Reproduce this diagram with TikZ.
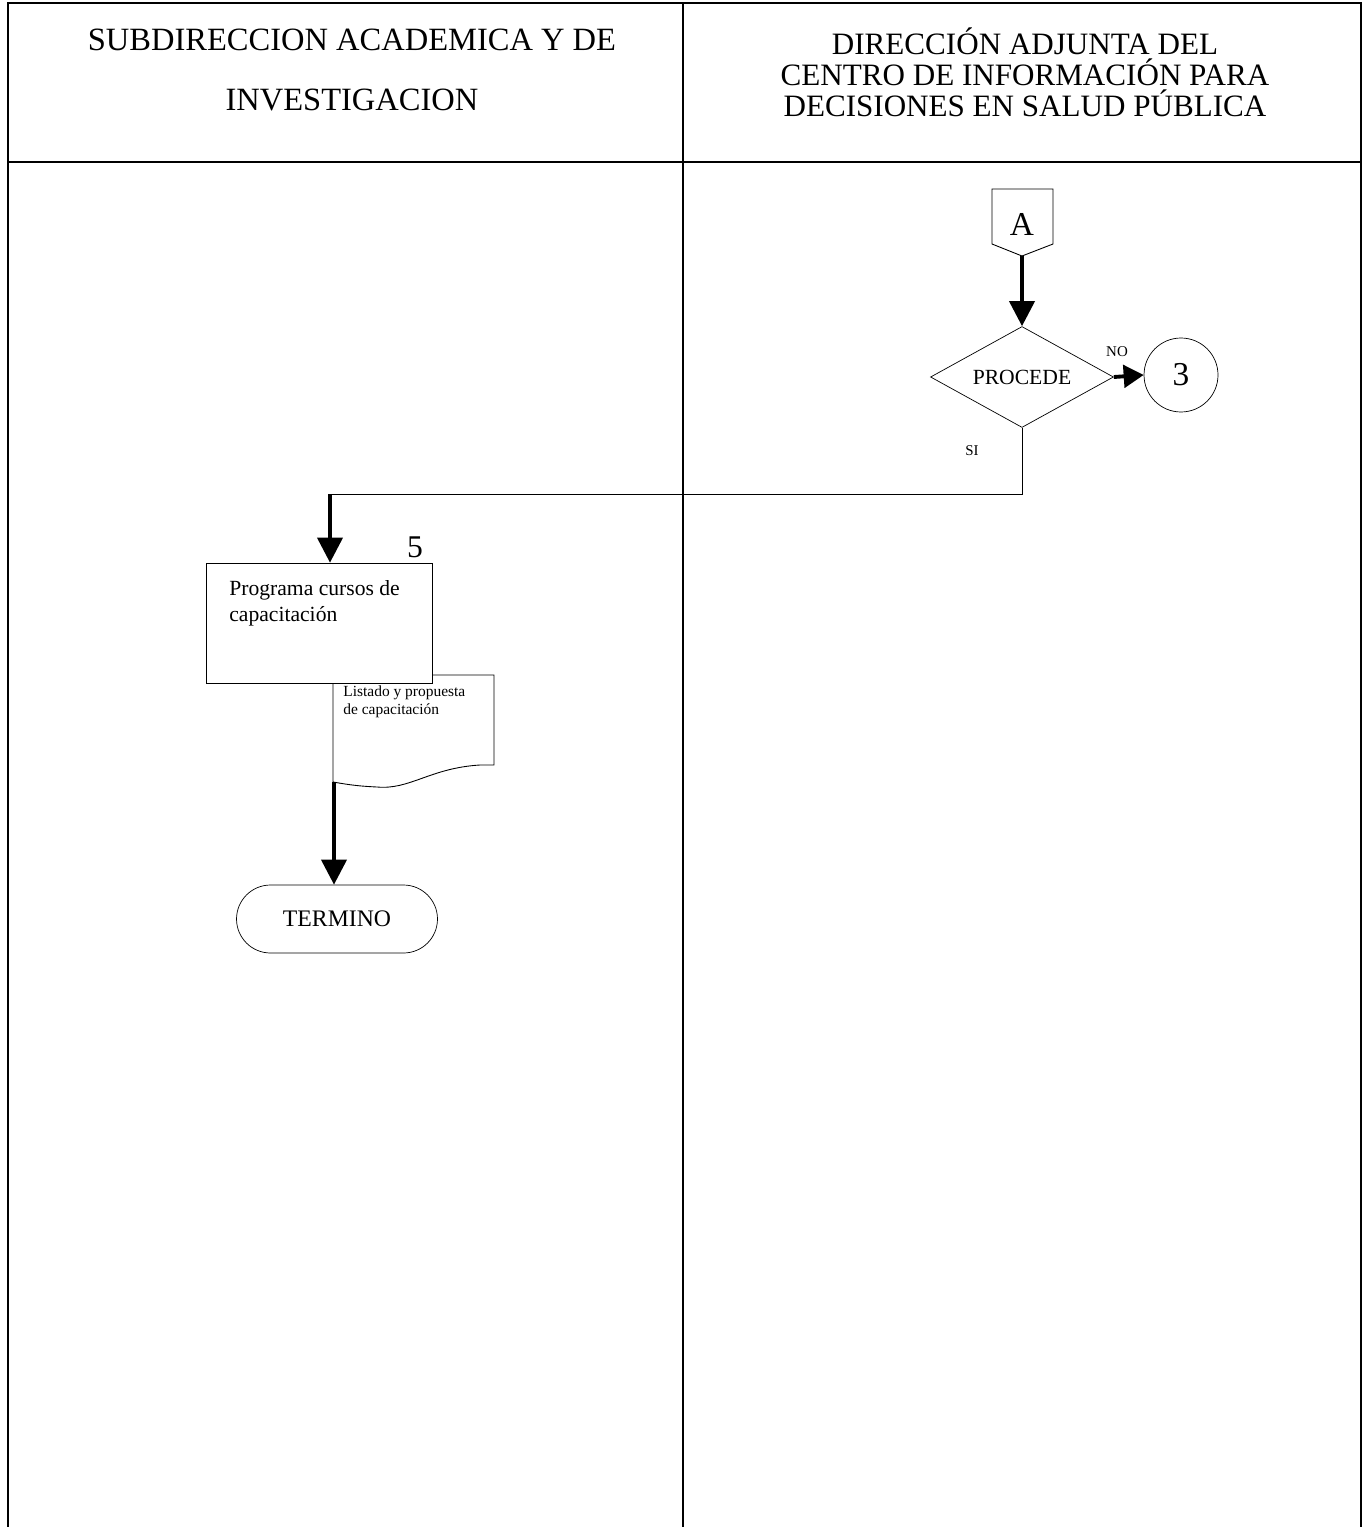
\documentclass[tikz,border=0pt]{standalone}
\usepackage{fontspec}
\setmainfont{Liberation Serif}
\usetikzlibrary{arrows.meta,positioning,shapes.geometric}
\tikzset{lane/.style={line width=1pt},
  flow/.style={-{Triangle[length=5mm,width=5mm]},line width=2.2pt},
  link/.style={line width=.5pt},
  hdr/.style={font=\fontsize{17.7}{17.6}\selectfont,align=center},
  decision/.style={diamond,draw,aspect=1.8,inner sep=0pt,minimum width=3.66cm,minimum height=2.02cm,font=\fontsize{12.3}{14}\selectfont},
  conn/.style={circle,draw,minimum size=1.48cm,inner sep=0pt,font=\fontsize{19}{22}\selectfont},
  procbox/.style={draw,fill=white,minimum width=4.52cm,minimum height=2.4cm},
  termbox/.style={draw,rounded corners=.68cm,minimum width=4.02cm,minimum height=1.36cm,font=\fontsize{13.5}{15}\selectfont},
  small/.style={font=\fontsize{8.8}{10}\selectfont,align=left,inner sep=0pt}}

\begin{document}
\begin{tikzpicture}[x=.02cm,y=-.02cm]
\useasboundingbox (0,0) rectangle (1366,1527);
\draw[lane] (8,1527) -- (8,3) -- (1361,3) -- (1361,1527);
\draw[lane] (683,3) -- (683,1527);
\draw[lane] (8,162) -- (1361,162);
\node[hdr,font=\fontsize{18.5}{20}\selectfont] (hdrL1) at (352,40) {SUBDIRECCION ACADEMICA Y DE};
\node[hdr,font=\fontsize{18.5}{20}\selectfont] (hdrL2) at (352,100) {INVESTIGACION};
\node[hdr] (hdrR) at (1025,72) {DIRECCIÓN ADJUNTA DEL\\CENTRO DE INFORMACIÓN PARA\\DECISIONES EN SALUD PÚBLICA};

\draw[link] (992,189) -- (1053,189) -- (1053,244) -- (1022,256) -- (992,244) -- cycle;
\node[font=\fontsize{19}{22}\selectfont] (offA) at (1022,224) {A};
\coordinate (offAtip) at (1022,256);
\node[decision] (dec) at (1022,377) {PROCEDE};
\node[conn] (c3) at (1181,375) {3};
\draw[flow,-{Triangle[length=4mm,width=4.5mm]}] (dec.east) -- (c3.west);
\draw[flow] (offAtip) -- (dec.north);
\node[font=\fontsize{8.5}{10}\selectfont] (lblNo) at (1117,352) {NO};
\node[font=\fontsize{8.5}{10}\selectfont] (lblSi) at (972,451) {SI};

\coordinate (jn) at (330,494);
\draw[link] (dec.south) |- (jn);

\draw[link,fill=white] (333,675) -- (494,675) -- (494,765) -- (480,765)
  .. controls (430,768) and (410,790) .. (377,787)
  .. controls (355,786) and (345,784) .. (333,782) -- cycle;
\node[small] (doctxt) at (343,702) [anchor=west] {Listado y propuesta\\de capacitación};
\coordinate (docbot) at (334,782);

\node[procbox] (prog) at (319,623) {};
\node[font=\fontsize{12.3}{15}\selectfont,align=left,inner sep=0pt,anchor=north west] (progtxt) at (229,580) {Programa cursos de\\capacitación};
\node[font=\fontsize{18}{20}\selectfont] (n5) at (415,547) {5};
\draw[flow] (jn) -- (jn |- prog.north);

\node[termbox] (term) at (337,919) {TERMINO};
\draw[flow] (docbot) -- (docbot |- term.north);
\end{tikzpicture}
\end{document}
